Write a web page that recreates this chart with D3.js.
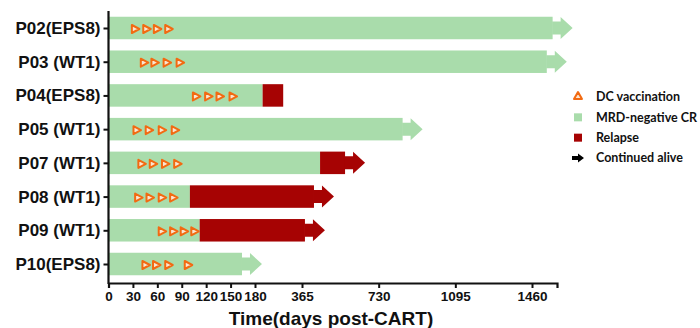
<!DOCTYPE html>
<html>
<head>
<meta charset="utf-8">
<script src="https://cdn.jsdelivr.net/npm/d3@7"></script>
<style>
    body { margin: 0; background: #fff; }
    .axis text { font-family: "Liberation Sans", Arial, sans-serif; font-weight: bold; }
    .legend text { font-family: Lato, "Open Sans", sans-serif; font-weight: bold; font-size: 12.5px; fill: #111; }
</style>
</head>
<body>
<div id="chart"></div>
<script>
// patients, top to bottom
var patients = ["P02(EPS8)", "P03 (WT1)", "P04(EPS8)", "P05 (WT1)", "P07 (WT1)", "P08 (WT1)", "P09 (WT1)", "P10(EPS8)"];
// day where MRD-negative CR ends
var crEnd = [1559, 1531, 210, 844, 451, 100, 112, 164];
// day where relapse ends (null = no relapse)
var relapseEnd = [null, null, 291, null, 570, 422, 379, null];
var alive = [true, true, false, true, true, true, true, true];
// DC vaccination days
var vaccDays = [
    [33, 47, 60, 74],
    [44, 57, 72, 88],
    [108, 123, 137, 153],
    [35, 50, 66, 82],
    [41, 55, 70, 85],
    [37, 51, 66, 80],
    [66, 80, 93, 106],
    [46, 59, 74, 98]
];
var tickDays = [0, 30, 60, 90, 120, 150, 180, 365, 730, 1095, 1460];
var legendItems = ["DC vaccination", "MRD-negative CR", "Relapse", "Continued alive"];

var green = "#a9dcab", red = "#a60303", orange = "#f26a12";

var svg = d3.select("#chart").append("svg")
    .attr("width", 700)
    .attr("height", 328);

// broken time axis: first 180 days stretched
var x = d3.scaleLinear()
    .domain([0, 180, 365, 1460, 1580])
    .range([108.5, 255, 302, 532, 557]);

var y = d3.scalePoint()
    .domain(patients)
    .range([28, 264]);

var barH = 22.5;

var rows = patients.map(function(p, i) {
    return { name: p, cr: crEnd[i], rel: relapseEnd[i], alive: alive[i], vacc: vaccDays[i] };
});

var bars = svg.append("g");

bars.selectAll(".cr")
    .data(rows)
    .enter().append("rect")
    .attr("class", "cr")
    .attr("x", x(0))
    .attr("y", function(d) { return y(d.name) - barH / 2; })
    .attr("width", function(d) { return x(d.cr) - x(0); })
    .attr("height", barH)
    .attr("fill", green);

bars.selectAll(".rel")
    .data(rows.filter(function(d) { return d.rel != null; }))
    .enter().append("rect")
    .attr("class", "rel")
    .attr("x", function(d) { return x(d.cr); })
    .attr("y", function(d) { return y(d.name) - barH / 2; })
    .attr("width", function(d) { return x(d.rel) - x(d.cr); })
    .attr("height", barH)
    .attr("fill", red);

// arrow for continued alive
function arrowPath(x0, cy, stemH, headH, stemL, headL) {
    return "M" + x0 + "," + (cy - stemH / 2) +
        "H" + (x0 + stemL) + "V" + (cy - headH / 2) +
        "L" + (x0 + stemL + headL) + "," + cy +
        "L" + (x0 + stemL) + "," + (cy + headH / 2) +
        "V" + (cy + stemH / 2) + "H" + x0 + "Z";
}

bars.selectAll(".arrow")
    .data(rows.filter(function(d) { return d.alive; }))
    .enter().append("path")
    .attr("class", "arrow")
    .attr("d", function(d) {
        var end = d.rel != null ? d.rel : d.cr;
        return arrowPath(x(end) - 0.5, y(d.name), 13, 22, 8.5, 12);
    })
    .attr("fill", function(d) { return d.rel != null ? red : green; });

// vaccination markers
function triRight(cx, cy) {
    return "M" + (cx - 3.5) + "," + (cy - 4) + "L" + (cx + 4) + "," + cy + "L" + (cx - 3.5) + "," + (cy + 4) + "Z";
}

rows.forEach(function(d) {
    bars.selectAll(null)
        .data(d.vacc)
        .enter().append("path")
        .attr("d", function(v) { return triRight(x(v), y(d.name) + 1); })
        .attr("fill", "#fbe6d2")
        .attr("stroke", orange)
        .attr("stroke-width", 2)
        .attr("stroke-linejoin", "round");
});

// axes
var xAxis = svg.append("g")
    .attr("class", "axis")
    .attr("transform", "translate(0,283)")
    .call(d3.axisBottom(x).tickValues(tickDays).tickFormat(d3.format("d"))
        .tickSizeOuter(0).tickSize(5).tickPadding(3));
xAxis.selectAll("text").attr("font-size", "13.5px").attr("fill", "#111");
xAxis.select(".domain").attr("stroke-width", 2.2).attr("stroke", "#111");
xAxis.selectAll(".tick line").attr("stroke-width", 2).attr("stroke", "#111");

var yAxis = svg.append("g")
    .attr("class", "axis")
    .attr("transform", "translate(108.5,0)")
    .call(d3.axisLeft(y).tickSize(5).tickSizeOuter(0).tickPadding(3));
yAxis.select(".domain")
    .attr("d", "M0,11V284")
    .attr("stroke-width", 2.2).attr("stroke", "#111");
yAxis.selectAll(".tick line").attr("stroke-width", 2).attr("stroke", "#111");
yAxis.selectAll("text").attr("font-size", "17px").attr("fill", "#111");

svg.append("text")
    .attr("x", 331)
    .attr("y", 325)
    .attr("text-anchor", "middle")
    .attr("font-family", "'Liberation Sans', Arial, sans-serif")
    .attr("font-weight", "bold")
    .attr("font-size", "19px")
    .attr("fill", "#111")
    .text("Time(days post-CART)");

// legend
var legend = svg.append("g")
    .attr("class", "legend")
    .attr("transform", "translate(578,0)");

var ly = d3.scalePoint().domain(legendItems).range([97, 158]);

legend.append("path")
    .attr("d", "M0," + (ly(legendItems[0]) - 5) + "L4," + (ly(legendItems[0]) + 2) + "L-4," + (ly(legendItems[0]) + 2) + "Z")
    .attr("fill", "#fbe6d2")
    .attr("stroke", orange)
    .attr("stroke-width", 2)
    .attr("stroke-linejoin", "round");

legend.append("rect")
    .attr("x", -4).attr("y", ly(legendItems[1]) - 4)
    .attr("width", 8).attr("height", 8)
    .attr("fill", green);

legend.append("rect")
    .attr("x", -4).attr("y", ly(legendItems[2]) - 4)
    .attr("width", 8).attr("height", 8)
    .attr("fill", red);

legend.append("path")
    .attr("d", arrowPath(-6, ly(legendItems[3]), 4, 9, 6, 6))
    .attr("fill", "#000");

legend.selectAll(".ltext")
    .data(legendItems)
    .enter().append("text")
    .attr("class", "ltext")
    .attr("x", 18)
    .attr("y", function(d) { return ly(d); })
    .attr("dy", "0.35em")
    .text(function(d) { return d; });
</script>
</body>
</html>
